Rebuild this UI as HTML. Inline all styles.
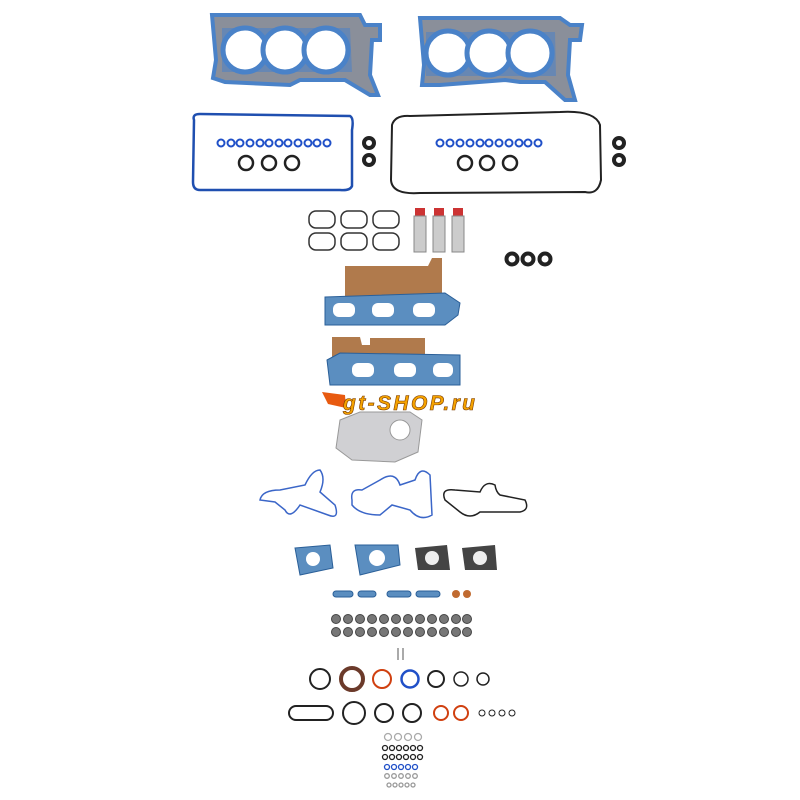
<!DOCTYPE html>
<html><head><style>body{margin:0;background:#fff}svg{display:block}</style></head><body>
<svg width="800" height="800" viewBox="0 0 800 800" xmlns="http://www.w3.org/2000/svg">
<!-- Head gaskets -->
<g>
<path d="M212 15 L360 15 L365 25 L380 25 L380 40 L372 40 L370 75 L378 95 L370 95 L345 80 L300 80 L290 85 L225 82 L213 78 L216 60 Z" fill="#8a8f9a" stroke="#4a82c8" stroke-width="4"/>
<path d="M222 28 L350 28 L352 72 L222 72 Z" fill="#4a82c8" opacity="0.55"/>
<circle cx="245" cy="50" r="22" fill="#fff" stroke="#4a82c8" stroke-width="5"/>
<circle cx="285" cy="50" r="22" fill="#fff" stroke="#4a82c8" stroke-width="5"/>
<circle cx="326" cy="50" r="22" fill="#fff" stroke="#4a82c8" stroke-width="5"/>
<path d="M420 18 L560 18 L570 25 L582 25 L580 40 L570 40 L568 75 L575 100 L565 100 L545 82 L520 82 L505 80 L440 85 L422 85 L424 65 Z" fill="#8a8f9a" stroke="#4a82c8" stroke-width="4"/>
<path d="M426 32 L555 32 L556 76 L426 76 Z" fill="#4a82c8" opacity="0.55"/>
<circle cx="448" cy="53" r="22" fill="#fff" stroke="#4a82c8" stroke-width="5"/>
<circle cx="489" cy="53" r="22" fill="#fff" stroke="#4a82c8" stroke-width="5"/>
<circle cx="530" cy="53" r="22" fill="#fff" stroke="#4a82c8" stroke-width="5"/>
</g>
<!-- Valve covers -->
<path d="M194 120 Q192 114 200 114 L350 116 Q354 118 352 130 L352 186 Q350 191 340 190 L200 190 Q193 190 193 182 Z" fill="none" stroke="#1f4fb0" stroke-width="2.5"/>
<g fill="none" stroke="#2050c8" stroke-width="2">
<circle cx="221" cy="143" r="3.5"/><circle cx="231" cy="143" r="3.5"/><circle cx="240" cy="143" r="3.5"/><circle cx="250" cy="143" r="3.5"/><circle cx="260" cy="143" r="3.5"/><circle cx="269" cy="143" r="3.5"/><circle cx="279" cy="143" r="3.5"/><circle cx="288" cy="143" r="3.5"/><circle cx="298" cy="143" r="3.5"/><circle cx="308" cy="143" r="3.5"/><circle cx="317" cy="143" r="3.5"/><circle cx="327" cy="143" r="3.5"/>
<circle cx="440" cy="143" r="3.5"/><circle cx="450" cy="143" r="3.5"/><circle cx="460" cy="143" r="3.5"/><circle cx="470" cy="143" r="3.5"/><circle cx="480" cy="143" r="3.5"/><circle cx="489" cy="143" r="3.5"/><circle cx="499" cy="143" r="3.5"/><circle cx="509" cy="143" r="3.5"/><circle cx="519" cy="143" r="3.5"/><circle cx="528" cy="143" r="3.5"/><circle cx="538" cy="143" r="3.5"/>
</g>
<g fill="none" stroke="#222" stroke-width="2.5">
<circle cx="246" cy="163" r="7"/><circle cx="269" cy="163" r="7"/><circle cx="292" cy="163" r="7"/>
<circle cx="465" cy="163" r="7"/><circle cx="487" cy="163" r="7"/><circle cx="510" cy="163" r="7"/>
<path d="M392 125 Q395 115 410 116 L560 112 Q595 110 600 125 L601 180 Q598 195 585 192 L420 193 Q392 195 391 180 Z" stroke-width="2"/>
</g>
<g fill="none" stroke="#222" stroke-width="4">
<circle cx="369" cy="143" r="5"/><circle cx="369" cy="160" r="5"/>
<circle cx="619" cy="143" r="5"/><circle cx="619" cy="160" r="5"/>
<circle cx="512" cy="259" r="5.5"/><circle cx="528" cy="259" r="5.5"/><circle cx="545" cy="259" r="5.5"/>
</g>
<!-- intake gaskets -->
<g fill="none" stroke="#333" stroke-width="1.5">
<rect x="309" y="211" width="26" height="17" rx="7"/><rect x="341" y="211" width="26" height="17" rx="7"/><rect x="373" y="211" width="26" height="17" rx="7"/>
<rect x="309" y="233" width="26" height="17" rx="7"/><rect x="341" y="233" width="26" height="17" rx="7"/><rect x="373" y="233" width="26" height="17" rx="7"/>
</g>
<g>
<rect x="415" y="208" width="10" height="8" fill="#c33"/><rect x="414" y="216" width="12" height="36" fill="#ccc" stroke="#888"/>
<rect x="434" y="208" width="10" height="8" fill="#c33"/><rect x="433" y="216" width="12" height="36" fill="#ccc" stroke="#888"/>
<rect x="453" y="208" width="10" height="8" fill="#c33"/><rect x="452" y="216" width="12" height="36" fill="#ccc" stroke="#888"/>
</g>
<!-- exhaust -->
<path d="M345 266 L428 266 L432 258 L442 258 L442 296 L345 296 Z" fill="#b07a4c"/>
<path d="M325 297 L445 293 L460 303 L458 315 L445 325 L325 325 Z" fill="#5b8ec0" stroke="#2a5f98"/>
<g fill="#fff"><rect x="333" y="303" width="22" height="14" rx="6"/><rect x="372" y="303" width="22" height="14" rx="6"/><rect x="413" y="303" width="22" height="14" rx="6"/></g>
<path d="M332 337 L360 337 L362 345 L370 345 L370 338 L425 338 L425 370 L332 370 Z" fill="#b07a4c"/>
<path d="M327 360 L340 353 L460 355 L460 385 L330 385 Z" fill="#5b8ec0" stroke="#2a5f98"/>
<g fill="#fff"><rect x="352" y="363" width="22" height="14" rx="6"/><rect x="394" y="363" width="22" height="14" rx="6"/><rect x="433" y="363" width="20" height="14" rx="6"/></g>
<!-- logo -->
<path d="M322 392 L345 395 L346 408 L328 404 Z" fill="#e85a10"/>
<text x="343" y="410" font-family="Liberation Sans, sans-serif" font-weight="bold" font-style="italic" font-size="21" fill="#f5a300" stroke="#7a3a00" stroke-width="0.6" textLength="132">gt-SHOP.ru</text>
<!-- pump plate -->
<path d="M340 420 L360 412 L410 412 L422 420 L418 452 L395 462 L352 460 L336 448 Z" fill="#d0d0d3" stroke="#999"/>
<circle cx="400" cy="430" r="10" fill="#fff" stroke="#999"/>
<!-- water outlets -->
<g fill="none" stroke-width="1.5">
<path d="M260 500 Q262 490 280 490 L305 485 Q312 470 320 470 Q326 478 320 492 L335 505 Q340 520 328 515 L300 505 Q290 520 285 510 L275 502 Z" stroke="#3b66c8"/>
<path d="M352 500 Q350 488 362 490 L380 480 Q395 470 400 485 L415 480 Q420 465 430 475 L432 515 Q420 522 410 510 L392 505 L380 515 Q360 515 352 505 Z" stroke="#3b66c8"/>
<path d="M445 500 Q440 488 455 490 L480 492 Q485 480 495 485 Q496 492 500 495 L525 500 Q530 510 520 512 L480 512 Q470 520 460 512 Z" stroke="#222"/>
</g>
<!-- thermostat etc -->
<g>
<path d="M295 548 L330 545 L333 568 L300 575 Z" fill="#5b8ec0" stroke="#2a5f98"/><circle cx="313" cy="559" r="7" fill="#fff"/>
<path d="M355 545 L398 545 L400 565 L360 575 Z" fill="#5b8ec0" stroke="#2a5f98"/><circle cx="377" cy="558" r="8" fill="#fff"/>
<path d="M415 548 L447 545 L450 570 L418 570 Z" fill="#444"/><circle cx="432" cy="558" r="7" fill="#eee"/>
<path d="M462 548 L495 545 L497 570 L465 570 Z" fill="#444"/><circle cx="480" cy="558" r="7" fill="#eee"/>
</g>
<g fill="#5b8ec0" stroke="#2a5f98">
<rect x="333" y="591" width="20" height="6" rx="3"/><rect x="358" y="591" width="18" height="6" rx="3"/><rect x="387" y="591" width="24" height="6" rx="3"/><rect x="416" y="591" width="24" height="6" rx="3"/>
</g>
<circle cx="456" cy="594" r="4" fill="#c06a30"/><circle cx="467" cy="594" r="4" fill="#c06a30"/>
<!-- valve seals -->
<g fill="#777" stroke="#444">
<circle cx="336" cy="619" r="4.5"/><circle cx="348" cy="619" r="4.5"/><circle cx="360" cy="619" r="4.5"/><circle cx="372" cy="619" r="4.5"/><circle cx="384" cy="619" r="4.5"/><circle cx="396" cy="619" r="4.5"/><circle cx="408" cy="619" r="4.5"/><circle cx="420" cy="619" r="4.5"/><circle cx="432" cy="619" r="4.5"/><circle cx="444" cy="619" r="4.5"/><circle cx="456" cy="619" r="4.5"/><circle cx="467" cy="619" r="4.5"/>
<circle cx="336" cy="632" r="4.5"/><circle cx="348" cy="632" r="4.5"/><circle cx="360" cy="632" r="4.5"/><circle cx="372" cy="632" r="4.5"/><circle cx="384" cy="632" r="4.5"/><circle cx="396" cy="632" r="4.5"/><circle cx="408" cy="632" r="4.5"/><circle cx="420" cy="632" r="4.5"/><circle cx="432" cy="632" r="4.5"/><circle cx="444" cy="632" r="4.5"/><circle cx="456" cy="632" r="4.5"/><circle cx="467" cy="632" r="4.5"/>
</g>
<rect x="397" y="648" width="2" height="12" fill="#aaa"/><rect x="402" y="648" width="2" height="12" fill="#aaa"/>
<!-- o-rings -->
<g fill="none" stroke-width="2">
<circle cx="320" cy="679" r="10" stroke="#222"/><circle cx="352" cy="679" r="11" stroke="#6b3a2a" stroke-width="4"/><circle cx="382" cy="679" r="9" stroke="#d04010"/><circle cx="410" cy="679" r="8.5" stroke="#2050c8" stroke-width="2.5"/><circle cx="436" cy="679" r="8" stroke="#222"/><circle cx="461" cy="679" r="7" stroke="#222" stroke-width="1.5"/><circle cx="483" cy="679" r="6" stroke="#222" stroke-width="1.5"/>
<rect x="289" y="706" width="44" height="14" rx="7" stroke="#222"/><circle cx="354" cy="713" r="11" stroke="#222"/><circle cx="384" cy="713" r="9" stroke="#222"/><circle cx="412" cy="713" r="9" stroke="#222"/><circle cx="441" cy="713" r="7" stroke="#d04010"/><circle cx="461" cy="713" r="7" stroke="#d04010"/>
<circle cx="482" cy="713" r="3" stroke="#222" stroke-width="1"/><circle cx="492" cy="713" r="3" stroke="#222" stroke-width="1"/><circle cx="502" cy="713" r="3" stroke="#222" stroke-width="1"/><circle cx="512" cy="713" r="3" stroke="#222" stroke-width="1"/>
</g>
<g fill="none" stroke-width="1.3">
<g stroke="#aaa"><circle cx="388" cy="737" r="3.5"/><circle cx="398" cy="737" r="3.5"/><circle cx="408" cy="737" r="3.5"/><circle cx="418" cy="737" r="3.5"/></g>
<g stroke="#222"><circle cx="385" cy="748" r="2.5"/><circle cx="392" cy="748" r="2.5"/><circle cx="399" cy="748" r="2.5"/><circle cx="406" cy="748" r="2.5"/><circle cx="413" cy="748" r="2.5"/><circle cx="420" cy="748" r="2.5"/>
<circle cx="385" cy="757" r="2.5"/><circle cx="392" cy="757" r="2.5"/><circle cx="399" cy="757" r="2.5"/><circle cx="406" cy="757" r="2.5"/><circle cx="413" cy="757" r="2.5"/><circle cx="420" cy="757" r="2.5"/></g>
<g stroke="#2050c8"><circle cx="387" cy="767" r="2.5"/><circle cx="394" cy="767" r="2.5"/><circle cx="401" cy="767" r="2.5"/><circle cx="408" cy="767" r="2.5"/><circle cx="415" cy="767" r="2.5"/></g>
<g stroke="#999"><circle cx="387" cy="776" r="2.3"/><circle cx="394" cy="776" r="2.3"/><circle cx="401" cy="776" r="2.3"/><circle cx="408" cy="776" r="2.3"/><circle cx="415" cy="776" r="2.3"/>
<circle cx="389" cy="785" r="2"/><circle cx="395" cy="785" r="2"/><circle cx="401" cy="785" r="2"/><circle cx="407" cy="785" r="2"/><circle cx="413" cy="785" r="2"/></g>
</g>
</svg>
</body></html>
